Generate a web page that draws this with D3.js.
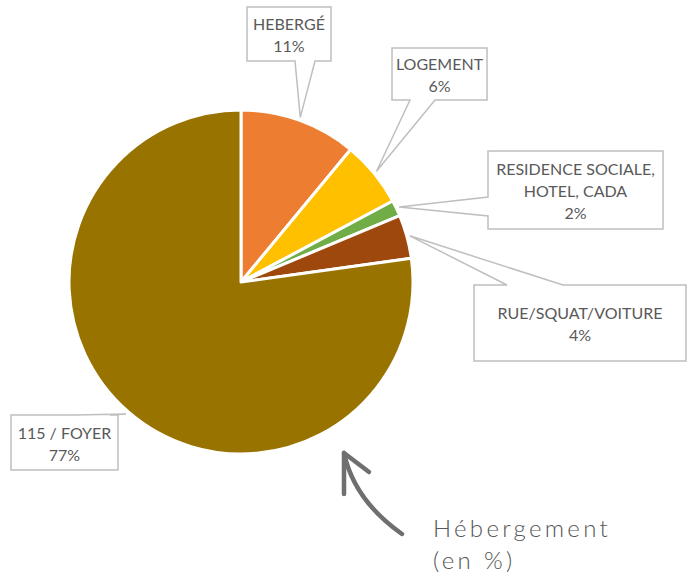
<!DOCTYPE html>
<html lang="fr">
<head>
<meta charset="UTF-8">
<title>Hébergement (en %)</title>
<script src="https://d3js.org/d3.v7.min.js"></script>
<style>
  body { margin: 0; background: #fff; }
  svg { display: block; }
  .callout text { font-family: Lato, "Open Sans", sans-serif; font-size: 16px; fill: #595959; }
  .title { font-family: Lato, "Open Sans", sans-serif; font-weight: 300; font-size: 24px; fill: #555; letter-spacing: 3.3px; }
</style>
</head>
<body>
<div id="chart"></div>
<script>
const categories = ["HEBERGÉ", "LOGEMENT", "RESIDENCE SOCIALE, HOTEL, CADA", "RUE/SQUAT/VOITURE", "115 / FOYER"];
const values = [11, 6.2, 1.5, 4.1, 77.2];
const labelLines = [["HEBERGÉ"], ["LOGEMENT"], ["RESIDENCE SOCIALE,", "HOTEL, CADA"], ["RUE/SQUAT/VOITURE"], ["115 / FOYER"]];
const colors = ["#ED7D31", "#FFC000", "#70AD47", "#9E480E", "#997300"];

const width = 696, height = 577;
const cx = 241, cy = 282, radius = 172;

// callout boxes: x, y, w, h, edge of the pointer, pointer base offsets along that edge
const boxes = [
  { x: 247, y: 7, w: 84, h: 54, edge: "bottom", a: 48, b: 68 },
  { x: 392, y: 48, w: 95, h: 52, edge: "bottom", a: 18, b: 43 },
  { x: 488, y: 151, w: 175, h: 78, edge: "left", a: 46, b: 65 },
  { x: 474, y: 285, w: 212, h: 76, edge: "top", a: 33, b: 89 },
  { x: 11, y: 415, w: 107, h: 55, edge: "top", a: 64, b: 99 }
];

const svg = d3.select("#chart").append("svg")
  .attr("width", width)
  .attr("height", height);

const pie = d3.pie().sort(null).value(d => d);
const arcs = pie(values);
const arc = d3.arc().innerRadius(0).outerRadius(radius);
const tipArc = d3.arc().innerRadius(175).outerRadius(175);

const g = svg.append("g").attr("transform", `translate(${cx},${cy})`);

g.selectAll("path")
  .data(arcs)
  .join("path")
  .attr("d", arc)
  .attr("fill", (d, i) => colors[i])
  .attr("stroke", "#fff")
  .attr("stroke-width", 3)
  .attr("stroke-linejoin", "round");

// callouts
function calloutPath(bx, tip) {
  const { x, y, w, h, edge, a, b } = bx;
  const p = d3.path();
  p.moveTo(x, y);
  if (edge === "top") { p.lineTo(x + a, y); p.lineTo(tip[0], tip[1]); p.lineTo(x + b, y); }
  p.lineTo(x + w, y);
  p.lineTo(x + w, y + h);
  if (edge === "bottom") { p.lineTo(x + b, y + h); p.lineTo(tip[0], tip[1]); p.lineTo(x + a, y + h); }
  p.lineTo(x, y + h);
  if (edge === "left") { p.lineTo(x, y + b); p.lineTo(tip[0], tip[1]); p.lineTo(x, y + a); }
  p.closePath();
  return p.toString();
}

const callouts = svg.selectAll("g.callout")
  .data(arcs)
  .join("g")
  .attr("class", "callout");

callouts.append("path")
  .attr("d", (d, i) => {
    const c = tipArc.centroid(d);
    return calloutPath(boxes[i], [c[0] + cx, c[1] + cy]);
  })
  .attr("fill", "#fff")
  .attr("stroke", "#bfbfbf")
  .attr("stroke-width", 1.5);

callouts.each(function (d, i) {
  const bx = boxes[i];
  const lines = labelLines[i].concat([Math.round(d.data) + "%"]);
  const lh = 22;
  const y0 = bx.y + bx.h / 2 - (lines.length - 1) * lh / 2 + 7;
  d3.select(this).selectAll("text")
    .data(lines)
    .join("text")
    .attr("x", bx.x + bx.w / 2)
    .attr("y", (t, k) => y0 + k * lh)
    .attr("text-anchor", "middle")
    .text(t => t);
});

// arrow + title
const arrow = svg.append("g")
  .attr("fill", "none")
  .attr("stroke", "#6f6f6f")
  .attr("stroke-width", 4.5)
  .attr("stroke-linecap", "round")
  .attr("stroke-linejoin", "round");
arrow.append("path").attr("d", "M402,534 C375,515 352,490 344,453");
arrow.append("path").attr("d", "M369,472 L344,453 L344,494");

const title = svg.append("text").attr("class", "title");
title.append("tspan").attr("x", 433).attr("y", 537).text("Hébergement");
title.append("tspan").attr("x", 433).attr("y", 569).text("(en %)");
</script>
</body>
</html>
